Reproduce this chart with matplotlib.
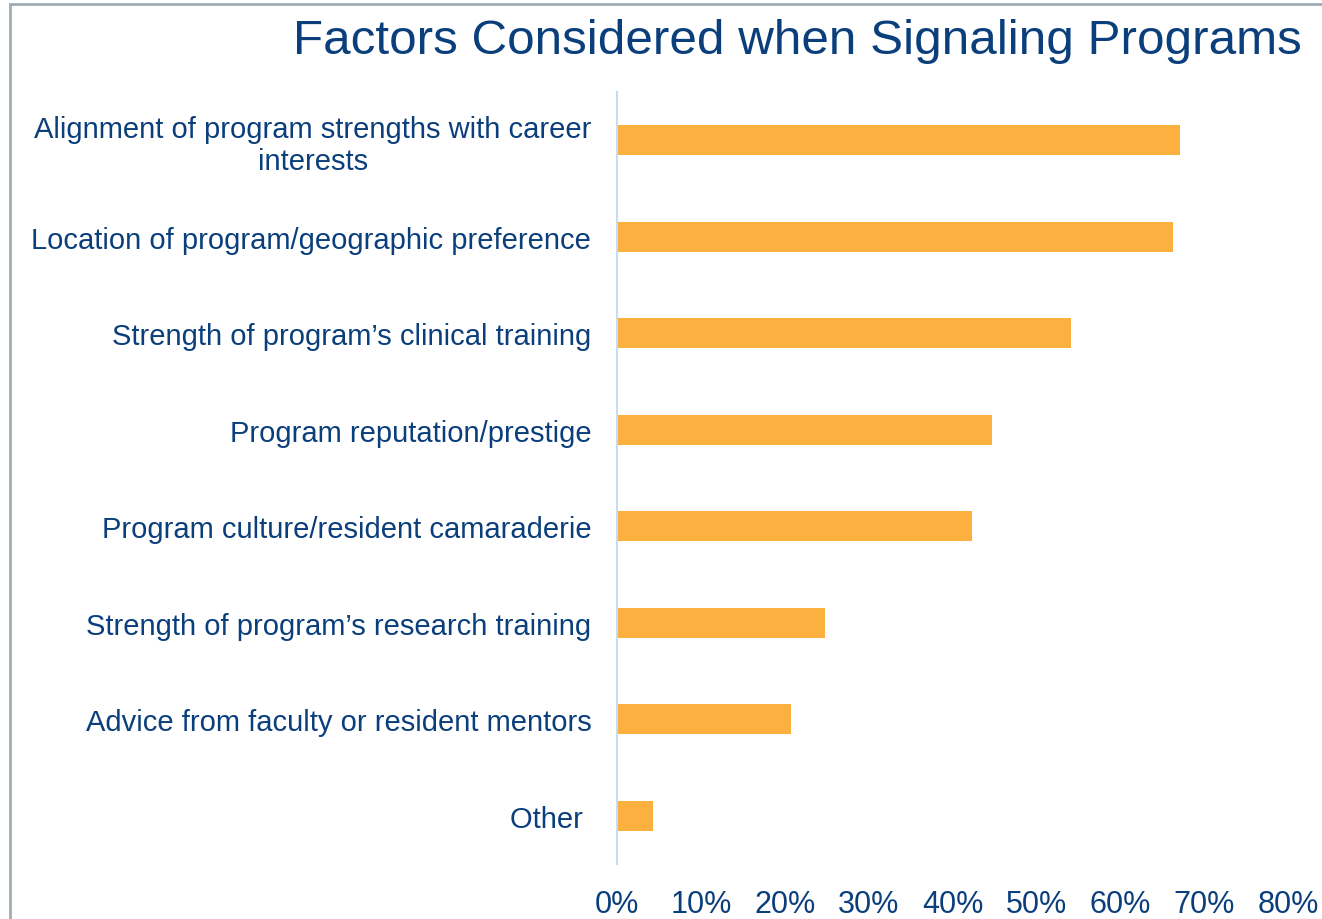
import matplotlib
matplotlib.use("Agg")
import matplotlib.pyplot as plt
from matplotlib.patches import Rectangle
from matplotlib.ticker import PercentFormatter

plt.rcParams['font.family'] = ['Liberation Sans', 'DejaVu Sans']

# data, top to bottom
factors = [
    "Alignment of program strengths with career\ninterests",
    "Location of program/geographic preference",
    "Strength of program\u2019s clinical training",
    "Program reputation/prestige",
    "Program culture/resident camaraderie",
    "Strength of program\u2019s research training",
    "Advice from faculty or resident mentors",
    "Other ",
]
shares = [0.671, 0.663, 0.541, 0.447, 0.423, 0.248, 0.208, 0.043]

text_col = '#0b3f7c'
bar_col = '#fbb040'

fig = plt.figure(figsize=(13.22, 9.2), dpi=100)
ax = fig.add_axes([0.4667, 0.0598, 0.5076, 0.8391])

ypos = list(range(len(factors)))
ax.barh(ypos, shares, height=0.31, color=bar_col)
ax.set_ylim(len(factors) - 0.5, -0.5)
ax.set_xlim(0, 0.8)

ax.set_yticks(ypos)
ax.set_yticklabels(factors, fontsize=21, color=text_col, multialignment='center',
                   linespacing=1.17)
ax.set_xticks([i / 10 for i in range(9)])
ax.xaxis.set_major_formatter(PercentFormatter(1.0, decimals=0))
ax.tick_params(axis='x', labelsize=22, labelcolor=text_col, length=0, pad=18)
ax.tick_params(axis='y', length=0, pad=18.5)

for s in ['top', 'right', 'bottom']:
    ax.spines[s].set_visible(False)
ax.spines['left'].set_color('#c5ddf3')
ax.spines['left'].set_linewidth(1.5)

fig.text(1302 / 1322, 1 - 42 / 920, "Factors Considered when Signaling Programs",
         ha='right', va='center', fontsize=35.6, color=text_col)

# frame line on the left and top
fig.patches.append(Rectangle((10 / 1322, -0.1), 1.2, 1 - 5 / 920 + 0.1,
                             transform=fig.transFigure, fill=False,
                             edgecolor='#9eadb2', linewidth=2))

fig.savefig("out.png", dpi=100)
